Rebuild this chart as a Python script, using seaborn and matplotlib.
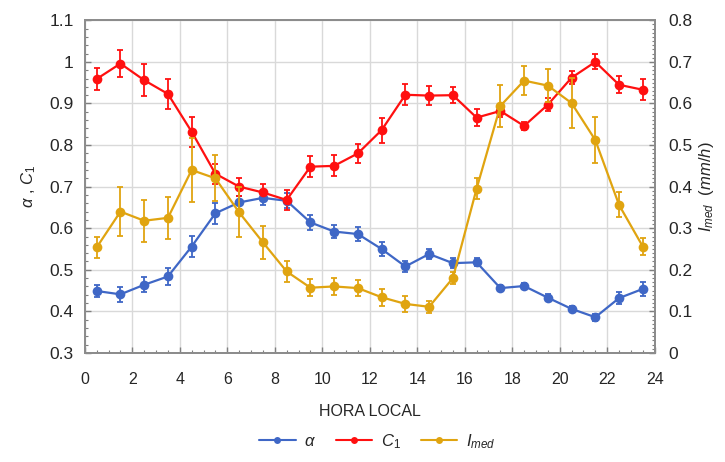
import numpy as np
import pandas as pd
import matplotlib
matplotlib.use("Agg")
import matplotlib.pyplot as plt
from matplotlib.ticker import MultipleLocator
from matplotlib.lines import Line2D
import seaborn as sns

hours = [0.5, 1.5, 2.5, 3.5, 4.5, 5.5, 6.5, 7.5, 8.5, 9.5, 10.5, 11.5,
         12.5, 13.5, 14.5, 15.5, 16.5, 17.5, 18.5, 19.5, 20.5, 21.5, 22.5, 23.5]

alpha = [0.449, 0.441, 0.464, 0.484, 0.556, 0.636, 0.662, 0.673, 0.666, 0.614, 0.592, 0.586,
         0.550, 0.508, 0.538, 0.516, 0.518, 0.456, 0.461, 0.433, 0.406, 0.386, 0.432, 0.454]
alpha_err = [0.015, 0.018, 0.018, 0.02, 0.025, 0.025, 0.015, 0.018, 0.018, 0.018, 0.016, 0.016,
             0.016, 0.014, 0.012, 0.012, 0.01, 0.008, 0.008, 0.008, 0.008, 0.008, 0.014, 0.016]

c1 = [0.959, 0.996, 0.956, 0.923, 0.832, 0.731, 0.700, 0.686, 0.668, 0.748, 0.750, 0.780,
      0.836, 0.921, 0.919, 0.920, 0.866, 0.882, 0.846, 0.897, 0.962, 1.000, 0.945, 0.933]
c1_err = [0.026, 0.032, 0.039, 0.037, 0.036, 0.024, 0.022, 0.02, 0.025, 0.025, 0.025, 0.022,
          0.03, 0.025, 0.022, 0.02, 0.02, 0.015, 0.01, 0.015, 0.015, 0.018, 0.02, 0.025]

imed = [0.254, 0.340, 0.318, 0.325, 0.440, 0.420, 0.338, 0.266, 0.196, 0.157, 0.160, 0.156,
        0.134, 0.118, 0.111, 0.180, 0.395, 0.594, 0.655, 0.643, 0.601, 0.512, 0.356, 0.256]
imed_err = [0.025, 0.058, 0.05, 0.05, 0.078, 0.055, 0.06, 0.04, 0.025, 0.02, 0.02, 0.02,
            0.02, 0.02, 0.015, 0.015, 0.025, 0.05, 0.035, 0.04, 0.06, 0.055, 0.03, 0.02]

BLUE = "#3F67C6"
RED = "#FF1010"
GOLD = "#E0A410"

sns.set_theme(style="white")
plt.rcParams['font.family'] = ['Liberation Sans', 'DejaVu Sans']
plt.rcParams['mathtext.fontset'] = 'custom'
plt.rcParams['mathtext.it'] = 'Liberation Sans:italic'
plt.rcParams['mathtext.rm'] = 'Liberation Sans'
plt.rcParams['mathtext.cal'] = 'Liberation Sans:italic'

fig = plt.figure(figsize=(7.25, 4.62), dpi=100)
ax = fig.add_axes([0.117, 0.236, 0.786, 0.720])
ax2 = ax.twinx()

df_left = pd.DataFrame({
    "hora": hours * 2,
    "valor": alpha + c1,
    "serie": ["alpha"] * len(hours) + ["c1"] * len(hours),
})
df_right = pd.DataFrame({"hora": hours, "valor": imed})

ax.errorbar(hours, alpha, yerr=alpha_err, fmt='none', ecolor=BLUE, elinewidth=1.3, capsize=2, capthick=1.3, zorder=3)
ax.errorbar(hours, c1, yerr=c1_err, fmt='none', ecolor=RED, elinewidth=1.3, capsize=2, capthick=1.3, zorder=3)
sns.lineplot(data=df_left, x="hora", y="valor", hue="serie", palette={"alpha": BLUE, "c1": RED},
             marker="o", markersize=7, markeredgewidth=0, linewidth=1.6, legend=False, ax=ax, zorder=4)

ax2.errorbar(hours, imed, yerr=imed_err, fmt='none', ecolor=GOLD, elinewidth=1.3, capsize=2, capthick=1.3, zorder=3)
sns.lineplot(data=df_right, x="hora", y="valor", color=GOLD, marker="o", markersize=7,
             markeredgewidth=0, linewidth=1.6, legend=False, ax=ax2, zorder=4)

ax.set_xlim(0, 24)
ax.set_ylim(0.3, 1.1)
ax2.set_ylim(0, 0.8)
ax.xaxis.set_major_locator(MultipleLocator(2))
ax.xaxis.set_minor_locator(MultipleLocator(0.5))
ax.yaxis.set_major_locator(MultipleLocator(0.1))
ax.yaxis.set_minor_locator(MultipleLocator(0.02))
ax2.yaxis.set_major_locator(MultipleLocator(0.1))
ax2.yaxis.set_minor_locator(MultipleLocator(0.01))

ax.set_xticks(np.arange(0, 25, 2))
ax.set_xticklabels([str(v) for v in range(0, 25, 2)])
ax.set_yticks(np.round(np.arange(0.3, 1.101, 0.1), 1))
ax.set_yticklabels(["0.3", "0.4", "0.5", "0.6", "0.7", "0.8", "0.9", "1", "1.1"])
ax2.set_yticks(np.round(np.arange(0, 0.801, 0.1), 1))
ax2.set_yticklabels(["0", "0.1", "0.2", "0.3", "0.4", "0.5", "0.6", "0.7", "0.8"])

ax.grid(True, which="major", color="#D9D9D9", linewidth=1.0)
ax.set_axisbelow(True)

for a in (ax, ax2):
    for s in a.spines.values():
        s.set_color("#8C8C8C")
        s.set_linewidth(1.3)
    a.tick_params(which="both", direction="in", color="#7F7F7F", labelcolor="#262626")
    a.tick_params(which="major", length=4, width=1)
    a.tick_params(which="minor", length=2.5, width=0.8)

ax.tick_params(axis="x", pad=14, labelsize=11.5)
ax.tick_params(axis="y", left=True, right=False, pad=8, labelsize=12.5)
ax.tick_params(axis="x", which="both", bottom=True, top=False)
ax2.tick_params(axis="y", which="both", right=True, left=False, pad=10, labelsize=12.5)

ax.set_xlabel("HORA LOCAL", fontsize=11.5, color="#262626", labelpad=12)
ax.set_ylabel(r"$\alpha$ , $C_1$", fontsize=12, color="#262626", labelpad=8)
ax2.set_ylabel(r"$I_{med}$  $(mm/h)$", fontsize=12, color="#262626", labelpad=3)

handles = [
    Line2D([0], [0], color=BLUE, marker="o", markersize=5, markeredgewidth=0, linewidth=1.5),
    Line2D([0], [0], color=RED, marker="o", markersize=5, markeredgewidth=0, linewidth=1.5),
    Line2D([0], [0], color=GOLD, marker="o", markersize=5, markeredgewidth=0, linewidth=1.5),
]
fig.legend(handles, [r"$\alpha$", r"$C_1$", r"$I_{med}$"], loc="center", bbox_to_anchor=(0.52, 0.045),
           ncol=3, frameon=False, fontsize=12, handlelength=2.2, columnspacing=1.2, handletextpad=0.5)

fig.savefig("out.png", dpi=100)
